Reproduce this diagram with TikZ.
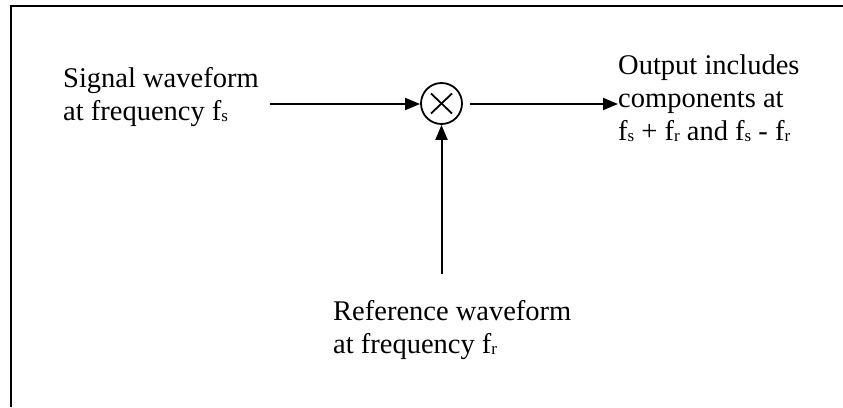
\documentclass[tikz,border=0pt]{standalone}
\usepackage{fontspec}
\setmainfont{Liberation Serif}
\usetikzlibrary{arrows.meta}
\newcommand{\sbs}[1]{\raisebox{-1.5pt}{\fontsize{17}{17}\selectfont #1}}
\begin{document}
\begin{tikzpicture}[x=1pt,y=-1pt,
  conn/.style={line width=2pt,-{Triangle[length=15pt,width=12pt]}},
  lbl/.style={inner sep=0pt,anchor=base west,font=\fontsize{28.5}{33}\selectfont},
  mixer/.style={circle,draw,line width=1.8pt,minimum size=41pt,inner sep=0pt},
  frame/.style={line width=2pt}]
\useasboundingbox (0,0) rectangle (843,407);
\draw[frame] (11,407) -- (11,6) -- (843,6);
\node[mixer] (mix) at (441.5,103.5) {};
\draw[line width=1.8pt] (mix.center) +(-10.5,-10) -- +(10.5,10);
\draw[line width=1.8pt] (mix.center) +(-10.5,10) -- +(10.5,-10);
\node[lbl] (sig) at (63,87) {\begin{tabular}[t]{@{}l@{}}Signal waveform\\at frequency f\sbs{s}\end{tabular}};
\node[lbl] (out) at (618,74) {\begin{tabular}[t]{@{}l@{}}Output includes\\components at\\f\sbs{s} + f\sbs{r} and f\sbs{s} - f\sbs{r}\end{tabular}};
\node[lbl] (ref) at (333,320) {\begin{tabular}[t]{@{}l@{}}Reference waveform\\at frequency f\sbs{r}\end{tabular}};
\coordinate (sigsrc) at (270,104);
\coordinate (outdst) at (618,104);
\coordinate (refsrc) at (441.5,274);
\draw[conn] (sigsrc) -- (mix.west |- sigsrc);
\draw[conn,shorten <=7pt] (mix.east |- outdst) -- (outdst);
\draw[conn] (refsrc) -- (mix.south);
\end{tikzpicture}
\end{document}
